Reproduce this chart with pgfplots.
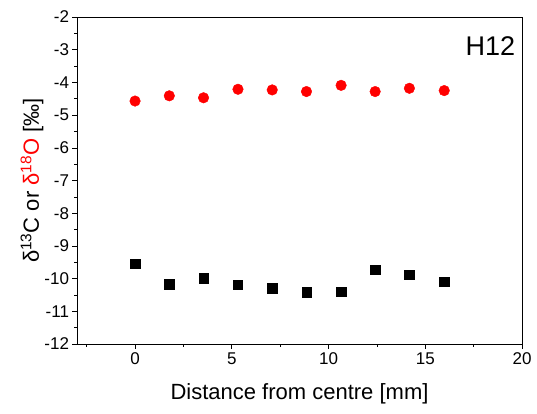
\documentclass[border=0pt]{standalone}
\usepackage{pgfplots}
\pgfplotsset{compat=1.18}
\usepackage{fontspec}
\setmainfont{Liberation Sans}
\usepackage{xcolor}
\definecolor{dred}{RGB}{255,0,0}

\begin{document}
\begin{tikzpicture}
  \path[use as bounding box] (-77pt,-69pt) rectangle (460pt,344pt);
  \begin{axis}[
    scale only axis,
    width=445pt, height=327pt,
    xmin=-3, xmax=20, ymin=-12, ymax=-2,
    xtick={0,5,10,15,20},
    minor xtick={-2.5,2.5,7.5,12.5,17.5},
    ytick={-12,-11,...,-2},
    minor ytick={-11.5,-10.5,...,-2.5},
    tick pos=left,
    tick align=outside,
    major tick length=4.5pt,
    minor tick length=2.8pt,
    every tick/.style={black, line width=0.6pt},
    axis line style={line width=0.8pt},
    /pgf/number format/assume math mode=true,
    tick label style={font=\fontsize{17}{19}\selectfont},
    xticklabel style={yshift=-1pt},
    label style={font=\fontsize{22}{25}\selectfont},
    xlabel={Distance from centre [mm]},
    ylabel={δ\textsuperscript{13}C or \textcolor{dred}{δ\textsuperscript{18}O} [‰]},
    xlabel style={yshift=-12pt},
    ylabel style={yshift=-6pt},
  ]
  \addplot[only marks, mark=*, mark size=5.3pt, color=dred] coordinates {
    (0,-4.57) (1.77,-4.41) (3.54,-4.47) (5.32,-4.21) (7.09,-4.23)
    (8.86,-4.28) (10.65,-4.09) (12.41,-4.28) (14.18,-4.18) (15.98,-4.25)
  };
  \addplot[only marks, mark=square*, mark size=4.7pt, color=black] coordinates {
    (0,-9.54) (1.77,-10.17) (3.54,-9.99) (5.32,-10.19) (7.09,-10.29)
    (8.86,-10.42) (10.65,-10.40) (12.41,-9.72) (14.18,-9.88) (15.98,-10.10)
  };
  \node[anchor=north east, font=\fontsize{27}{31}\selectfont, inner sep=0pt]
    at (rel axis cs:0.985,0.94) {H12};
  \end{axis}
\end{tikzpicture}
\end{document}
